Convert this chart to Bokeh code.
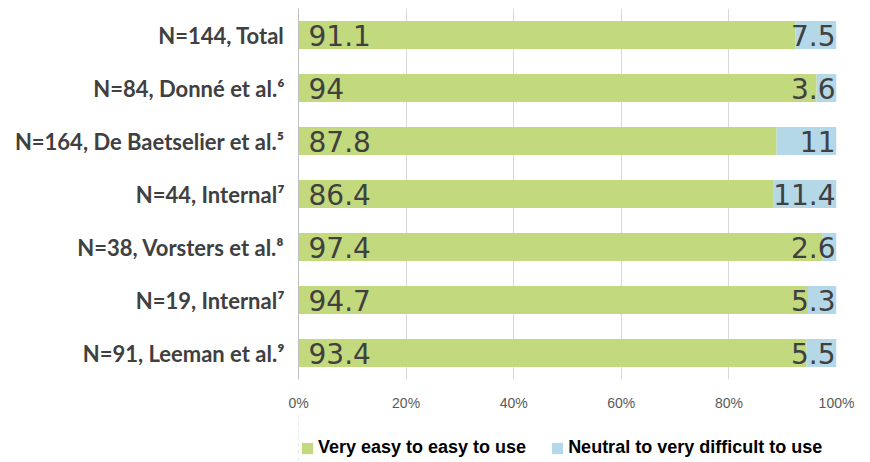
from bokeh.plotting import figure
from bokeh.layouts import column
from bokeh.models import (ColumnDataSource, FactorRange, Range1d, Legend, LegendItem,
                          FixedTicker, PrintfTickFormatter)
from bokeh.core.properties import value
from bokeh.embed import file_html
from bokeh.resources import INLINE

categories = ["N=144, Total", "N=84, Donné et al.\u2076", "N=164, De Baetselier et al.\u2075",
              "N=44, Internal\u2077", "N=38, Vorsters et al.\u2078", "N=19, Internal\u2077",
              "N=91, Leeman et al.\u2079"]
easy = [91.1, 94, 87.8, 86.4, 97.4, 94.7, 93.4]
difficult = [7.5, 3.6, 11, 11.4, 2.6, 5.3, 5.5]
series_names = ["Very easy to easy to use", "Neutral to very difficult to use"]
x_ticks = [0, 20, 40, 60, 80, 100]

GREEN = "#C3D97D"
BLUE = "#B4D8E7"

tot = [e + d for e, d in zip(easy, difficult)]
easy_pct = [e / t * 100 for e, t in zip(easy, tot)]
src = ColumnDataSource(dict(
    cat=categories,
    zero=[0] * len(categories),
    mid=easy_pct,
    full=[100] * len(categories),
    easy_lbl=[f"{v:g}" for v in easy],
    diff_lbl=[f"{v:g}" for v in difficult],
))

p = figure(width=870, height=413, output_backend="svg", toolbar_location=None,
           y_range=FactorRange(factors=list(reversed(categories)), range_padding=0),
           x_range=Range1d(0, 100),
           min_border_left=298, min_border_right=34, min_border_top=8, min_border_bottom=34)
p.outline_line_color = None
p.background_fill_color = "white"

p.hbar(y="cat", left="zero", right="mid", height=0.53, color=GREEN, line_color=None, source=src)
p.hbar(y="cat", left="mid", right="full", height=0.53, color=BLUE, line_color=None, source=src)

p.text(x="zero", y="cat", text="easy_lbl", source=src, x_offset=10, text_align="left",
       text_baseline="middle", text_font=value("DejaVu Sans"), text_font_size="28px",
       text_color="#404040")
p.text(x="full", y="cat", text="diff_lbl", source=src, x_offset=-1, text_align="right",
       text_baseline="middle", text_font=value("DejaVu Sans"), text_font_size="28px",
       text_color="#404040")

p.ygrid.grid_line_color = None
p.xgrid.grid_line_color = "#d9d9d9"
p.xgrid.ticker = FixedTicker(ticks=x_ticks)

p.xaxis.ticker = FixedTicker(ticks=x_ticks)
p.xaxis.formatter = PrintfTickFormatter(format="%d%%")
p.xaxis.axis_line_color = None
p.xaxis.major_tick_line_color = None
p.xaxis.minor_tick_line_color = None
p.xaxis.major_label_text_font = "Liberation Sans"
p.xaxis.major_label_text_font_size = "14px"
p.xaxis.major_label_text_color = "#595959"
p.xaxis.major_label_standoff = 9

p.yaxis.axis_line_color = "#bfbfbf"
p.yaxis.major_tick_line_color = None
p.yaxis.minor_tick_line_color = None
p.yaxis.major_label_text_font = "Lato"
p.yaxis.major_label_text_font_style = "bold"
p.yaxis.major_label_text_font_size = "22px"
p.yaxis.major_label_text_color = "#404040"
p.yaxis.major_label_standoff = 8

# legend strip: same series drawn out of view, only the legend is visible
lg = figure(width=870, height=49, output_backend="svg", toolbar_location=None,
            x_axis_type=None, y_axis_type=None,
            x_range=Range1d(200, 300), y_range=FactorRange(factors=categories),
            min_border_left=0, min_border_right=0, min_border_top=0, min_border_bottom=0)
lg.outline_line_color = None
lg.grid.visible = False
d1 = lg.hbar(y="cat", left="zero", right="mid", height=0.5, color=GREEN, line_color=None, source=src)
d2 = lg.hbar(y="cat", left="mid", right="full", height=0.5, color=BLUE, line_color=None, source=src)

legend = Legend(items=[LegendItem(label=series_names[0], renderers=[d1]),
                       LegendItem(label=series_names[1], renderers=[d2])],
                orientation="horizontal", location=(2, 4),
                glyph_width=14, glyph_height=14, label_standoff=4, spacing=24,
                padding=0, margin=0, border_line_color=None, background_fill_alpha=0,
                label_text_font="Liberation Sans", label_text_font_style="bold",
                label_text_font_size="18px", label_text_color="#000000")
lg.add_layout(legend, "center")

layout = column(p, lg, spacing=0)
open("out.html", "w").write(file_html(layout, INLINE))
